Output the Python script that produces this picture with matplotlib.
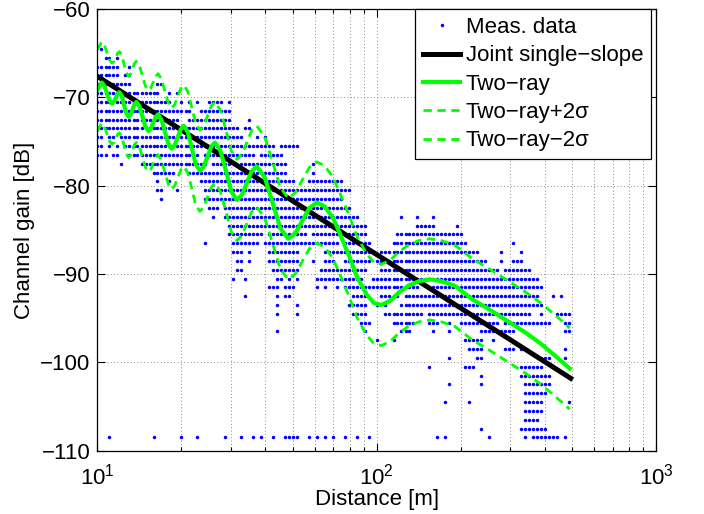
import numpy as np
import matplotlib
matplotlib.use("Agg")
import matplotlib.pyplot as plt
from matplotlib.ticker import LogLocator, NullFormatter

# measured points: gain levels (dB) and the distances (m) seen at each level
meas_levels = [-64.5, -65.5, -66.5, -67.5, -68.5, -69.5, -70.5, -71.5, -72.5,
               -73.5, -74.5, -75.5, -76.5, -77.5, -78.5, -79.5, -80.5, -81.5,
               -82.5, -83.5, -84.5, -85.5, -86.5, -87.5, -88.5, -89.5, -90.5,
               -91.5, -92.5, -93.5, -94.5, -95.5, -96.5, -97.5, -98.5, -99.5,
               -100.5, -101.5, -102.5, -103.5, -104.5, -105.5, -106.5, -107.5,
               -108.5]
meas_dists = [
    [10.3],
    [10.7, 11.0, 11.8],
    [10.0, 10.3, 10.7, 11.0, 11.4, 11.8, 13.0],
    [10.0, 10.3, 10.7, 11.0, 11.4, 11.8, 12.6, 13.0],
    [10.0, 10.3, 10.7, 11.0, 11.4, 11.8, 12.2, 12.6, 13.0, 16.4, 16.9],
    [10.0, 10.3, 10.7, 11.0, 11.4, 11.8, 12.2, 12.6, 13.0, 13.5, 13.9, 14.4,
     14.9, 15.4, 15.9, 16.4, 18.1, 19.3],
    [10.0, 10.3, 10.7, 11.0, 11.4, 11.8, 12.2, 12.6, 13.0, 13.5, 13.9, 14.4,
     14.9, 15.4, 15.9, 16.4, 16.9, 17.5, 18.1, 20.0, 21.3, 22.8, 25.2, 26.0,
     26.9, 27.8, 29.7],
    [10.0, 10.3, 10.7, 11.0, 11.4, 11.8, 12.2, 12.6, 13.0, 13.5, 13.9, 14.4,
     14.9, 15.4, 15.9, 16.4, 16.9, 17.5, 18.1, 18.7, 19.3, 20.0, 20.7, 21.3,
     23.6, 24.3, 25.2, 26.0, 26.9, 27.8, 28.7, 29.7],
    [10.0, 10.3, 10.7, 11.0, 11.4, 11.8, 12.2, 12.6, 13.0, 13.5, 13.9, 14.4,
     14.9, 15.4, 15.9, 16.4, 16.9, 17.5, 18.1, 18.7, 19.3, 21.3, 22.1, 22.8,
     23.6, 24.3, 25.2, 26.0, 26.9, 27.8, 28.7, 29.7, 35.0],
    [10.0, 10.3, 10.7, 11.0, 11.4, 11.8, 12.2, 12.6, 13.0, 13.5, 13.9, 14.4,
     14.9, 15.4, 15.9, 16.4, 16.9, 17.5, 18.1, 18.7, 19.3, 20.0, 20.7, 21.3,
     22.1, 22.8, 23.6, 24.3, 25.2, 26.0, 26.9, 27.8, 28.7, 29.7, 30.7, 31.7,
     33.9, 35.0],
    [10.0, 10.3, 11.0, 11.4, 12.2, 12.6, 13.0, 13.5, 13.9, 14.4, 14.9, 15.4,
     15.9, 16.4, 16.9, 17.5, 18.1, 18.7, 19.3, 20.0, 20.7, 21.3, 22.1, 22.8,
     23.6, 24.3, 25.2, 26.0, 26.9, 27.8, 28.7, 29.7, 30.7, 31.7, 32.8, 37.4,
     39.9],
    [10.0, 10.3, 11.0, 11.8, 12.6, 13.0, 13.5, 13.9, 14.4, 14.9, 15.4, 15.9,
     16.4, 16.9, 17.5, 18.1, 18.7, 19.3, 20.0, 20.7, 21.3, 22.1, 22.8, 23.6,
     24.3, 25.2, 26.0, 26.9, 27.8, 28.7, 29.7, 30.7, 31.7, 32.8, 33.9, 35.0,
     36.2, 37.4, 38.6, 39.9, 41.2, 42.6, 45.5, 47.1, 48.6, 50.3, 51.9],
    [10.0, 10.3, 10.7, 11.4, 11.8, 13.0, 13.5, 13.9, 14.4, 14.9, 15.4, 15.9,
     16.4, 16.9, 17.5, 18.1, 18.7, 19.3, 20.0, 20.7, 21.3, 22.1, 22.8, 24.3,
     25.2, 26.0, 26.9, 27.8, 28.7, 29.7, 30.7, 31.7, 32.8, 33.9, 35.0, 36.2,
     38.6, 39.9, 41.2, 42.6, 44.1, 45.5],
    [12.2, 14.4, 14.9, 15.4, 15.9, 16.4, 16.9, 17.5, 18.1, 18.7, 19.3, 20.0,
     20.7, 21.3, 22.1, 22.8, 23.6, 24.3, 26.0, 26.9, 27.8, 28.7, 29.7, 32.8,
     33.9, 35.0, 36.2, 37.4, 38.6, 39.9, 41.2, 42.6, 44.1, 45.5, 47.1, 59.3],
    [15.9, 16.4, 16.9, 17.5, 18.1, 18.7, 21.3, 22.1, 22.8, 23.6, 24.3, 25.2,
     26.0, 26.9, 27.8, 28.7, 29.7, 30.7, 31.7, 32.8, 33.9, 35.0, 36.2, 37.4,
     38.6, 39.9, 41.2, 42.6, 44.1, 45.5, 47.1, 59.3],
    [16.4, 18.1, 23.6, 24.3, 25.2, 26.0, 26.9, 27.8, 28.7, 29.7, 30.7, 31.7,
     32.8, 33.9, 35.0, 36.2, 37.4, 38.6, 39.9, 41.2, 42.6, 44.1, 45.5, 47.1,
     48.6, 50.3, 57.3, 59.3, 61.2, 63.3, 65.4, 67.6, 69.9, 72.2, 74.6],
    [16.4, 16.9, 19.3, 24.3, 25.2, 26.0, 26.9, 27.8, 28.7, 29.7, 30.7, 31.7,
     32.8, 33.9, 35.0, 36.2, 37.4, 38.6, 39.9, 41.2, 42.6, 44.1, 45.5, 47.1,
     48.6, 50.3, 51.9, 53.7, 55.5, 57.3, 59.3, 61.2, 63.3, 65.4, 67.6, 69.9,
     72.2, 74.6, 77.1, 79.7],
    [16.9, 24.3, 25.2, 26.0, 26.9, 27.8, 28.7, 29.7, 30.7, 31.7, 32.8, 33.9,
     35.0, 36.2, 37.4, 38.6, 39.9, 41.2, 42.6, 44.1, 45.5, 47.1, 48.6, 50.3,
     51.9, 53.7, 55.5, 57.3, 59.3, 61.2, 63.3, 65.4, 67.6, 69.9, 72.2, 74.6],
    [25.2, 26.0, 26.9, 28.7, 29.7, 30.7, 31.7, 32.8, 33.9, 35.0, 36.2, 37.4,
     38.6, 39.9, 41.2, 42.6, 44.1, 45.5, 47.1, 48.6, 50.3, 51.9, 53.7, 55.5,
     57.3, 59.3, 61.2, 63.3, 65.4, 67.6, 69.9, 72.2, 74.6, 77.1, 79.7],
    [26.0, 28.7, 29.7, 30.7, 31.7, 32.8, 33.9, 35.0, 36.2, 37.4, 38.6, 39.9,
     41.2, 42.6, 44.1, 45.5, 47.1, 48.6, 50.3, 51.9, 53.7, 55.5, 57.3, 59.3,
     61.2, 63.3, 65.4, 67.6, 69.9, 72.2, 74.6, 77.1, 79.7, 82.4, 85.1, 122,
     140, 159],
    [29.7, 30.7, 31.7, 32.8, 33.9, 35.0, 36.2, 37.4, 38.6, 39.9, 41.2, 42.6,
     44.1, 45.5, 47.1, 48.6, 50.3, 51.9, 53.7, 55.5, 57.3, 59.3, 61.2, 63.3,
     65.4, 67.6, 69.9, 72.2, 74.6, 77.1, 79.7, 82.4, 85.1, 88.0, 90.9, 140,
     144, 149, 154, 159, 194],
    [29.7, 30.7, 31.7, 32.8, 33.9, 35.0, 36.2, 37.4, 38.6, 41.2, 42.6, 44.1,
     45.5, 47.1, 48.6, 50.3, 51.9, 53.7, 55.5, 59.3, 61.2, 63.3, 65.4, 67.6,
     69.9, 72.2, 74.6, 77.1, 79.7, 82.4, 85.1, 88.0, 90.9, 118, 122, 127, 131,
     135, 140, 144, 149, 154, 159, 165, 170, 176, 182, 188, 194, 201],
    [24.3, 30.7, 31.7, 32.8, 33.9, 35.0, 36.2, 37.4, 39.9, 41.2, 42.6, 44.1,
     45.5, 47.1, 48.6, 50.3, 51.9, 53.7, 55.5, 57.3, 59.3, 61.2, 63.3, 65.4,
     67.6, 69.9, 72.2, 77.1, 79.7, 82.4, 85.1, 88.0, 90.9, 94.0, 115, 118,
     122, 127, 131, 135, 140, 144, 149, 154, 159, 165, 170, 176, 182, 188,
     194, 201, 207, 308],
    [30.7, 31.7, 32.8, 35.0, 41.2, 42.6, 44.1, 45.5, 47.1, 48.6, 50.3, 51.9,
     65.4, 67.6, 69.9, 72.2, 74.6, 77.1, 79.7, 82.4, 85.1, 88.0, 90.9, 94.0,
     97.1, 104, 107, 111, 115, 118, 122, 127, 131, 135, 140, 144, 149, 154,
     159, 165, 170, 176, 182, 188, 194, 201, 207, 214, 221, 229, 279, 329],
    [31.7, 32.8, 35.0, 41.2, 42.6, 44.1, 45.5, 47.1, 48.6, 50.3, 51.9, 59.3,
     65.4, 67.6, 69.9, 77.1, 79.7, 82.4, 85.1, 88.0, 90.9, 94.0, 100, 104,
     107, 111, 115, 118, 122, 127, 131, 135, 140, 144, 149, 154, 159, 165,
     170, 176, 182, 188, 194, 201, 207, 214, 221, 229, 237, 245, 279, 308,
     318, 329],
    [31.7, 32.8, 42.6, 44.1, 45.5, 47.1, 48.6, 50.3, 51.9, 63.3, 65.4, 67.6,
     69.9, 72.2, 74.6, 77.1, 79.7, 82.4, 85.1, 88.0, 90.9, 104, 107, 111, 115,
     118, 122, 127, 131, 135, 140, 144, 149, 154, 159, 165, 170, 176, 182,
     188, 194, 201, 207, 214, 221, 229, 237, 245, 253, 261, 270, 288, 298,
     308, 318, 329, 340, 351],
    [30.7, 33.9, 44.1, 45.5, 48.6, 51.9, 61.2, 63.3, 65.4, 67.6, 69.9, 72.2,
     74.6, 77.1, 79.7, 82.4, 85.1, 88.0, 97.1, 100, 104, 107, 111, 115, 118,
     122, 127, 131, 135, 140, 144, 149, 154, 159, 165, 170, 176, 182, 188,
     194, 201, 207, 214, 221, 229, 237, 245, 253, 261, 270, 279, 288, 298,
     308, 318, 329, 340, 351, 363, 375],
    [41.2, 42.6, 44.1, 47.1, 48.6, 50.3, 61.2, 65.4, 72.2, 77.1, 79.7, 82.4,
     85.1, 88.0, 90.9, 94.0, 97.1, 100, 104, 107, 111, 115, 118, 122, 127,
     131, 135, 140, 154, 159, 165, 170, 176, 182, 188, 194, 201, 207, 214,
     221, 229, 237, 245, 253, 261, 270, 279, 288, 298, 308, 318, 329, 340,
     351, 363, 375, 388],
    [33.9, 44.1, 47.1, 48.6, 82.4, 85.1, 88.0, 90.9, 104, 107, 111, 115, 118,
     127, 131, 135, 140, 144, 149, 154, 159, 165, 170, 176, 182, 188, 194,
     201, 207, 214, 221, 229, 237, 245, 253, 261, 270, 279, 288, 298, 308,
     318, 329, 340, 351, 363, 375, 428, 457],
    [44.1, 51.9, 79.7, 82.4, 85.1, 88.0, 90.9, 100, 107, 122, 127, 131, 135,
     140, 144, 149, 154, 159, 165, 170, 176, 182, 188, 194, 201, 207, 214,
     221, 229, 237, 245, 253, 261, 270, 279, 288, 298, 308, 318, 329, 340,
     351, 363, 375, 388],
    [44.1, 51.9, 82.4, 85.1, 88.0, 90.9, 107, 111, 115, 118, 122, 127, 131,
     135, 140, 144, 154, 159, 165, 170, 176, 182, 188, 194, 201, 207, 214,
     221, 229, 237, 245, 253, 261, 270, 279, 288, 298, 308, 318, 329, 340,
     351, 388, 442, 457, 473, 488],
    [88.0, 90.9, 94.0, 115, 118, 122, 127, 131, 135, 154, 159, 165, 182, 201,
     207, 214, 221, 229, 237, 245, 253, 261, 270, 288, 298, 308, 318, 329,
     340, 351, 363, 375, 388, 401, 414, 473, 488],
    [44.1, 90.9, 122, 127, 131, 159, 182, 237, 245, 253, 261, 270, 279, 288,
     298, 308, 473, 488],
    [100, 115, 207, 214, 221, 229, 237, 261],
    [214, 221, 229, 237, 288, 298, 308, 329, 473],
    [182, 229, 237, 388, 401, 414, 473],
    [154, 207, 214, 221, 329, 340, 351, 363, 375, 388],
    [237, 329, 340, 351, 363, 375, 388, 401, 414],
    [182, 237, 340, 351, 363, 375, 388, 401, 414],
    [340, 351, 363, 375, 388, 401],
    [176, 214, 340, 351, 363, 375, 388, 488],
    [340, 351, 363, 375, 388],
    [340, 351, 363, 375],
    [237, 329, 340, 351, 363, 375, 388, 401],
    [11.0, 15.9, 20.0, 22.8, 28.7, 32.8, 36.2, 38.6, 42.6, 47.1, 48.6, 50.3,
     51.9, 57.3, 61.2, 65.4, 69.9, 77.1, 85.1, 94.0, 165, 176, 253, 340, 363,
     375, 388, 401, 414, 428, 442, 473],
]

# joint single-slope fit (end points)
slope_dist = [10.0, 495.0]
slope_gain = [-67.6, -101.8]

# two-ray model
tworay_dist = [10.0, 10.37, 10.59, 10.83, 11.06, 11.3, 11.47, 11.65, 11.82,
               12.0, 12.23, 12.46, 12.71, 12.95, 13.16, 13.37, 13.58, 13.8,
               14.15, 14.51, 14.87, 15.25, 15.56, 15.86, 16.18, 16.5, 16.97,
               17.45, 17.95, 18.45, 18.92, 19.4, 19.9, 20.4, 21.1, 21.8, 22.5,
               23.3, 24.0, 24.8, 25.6, 26.4, 27.6, 28.9, 30.2, 31.6, 32.9,
               34.3, 35.7, 37.2, 39.7, 42.4, 45.2, 48.2, 51.1, 54.2, 57.5,
               61.0, 65.0, 69.7, 73.8, 79.6, 85.0, 92.0, 98.0, 104, 112, 120,
               130, 142, 155, 170, 190, 221, 250, 300, 340, 384, 430, 460, 491]
tworay_gain = [-69.2, -68.3, -68.65, -69.5, -70.35, -70.7, -70.5, -70.05,
               -69.6, -69.4, -69.8, -70.8, -71.8, -72.2, -71.95, -71.35,
               -70.75, -70.5, -71.0, -72.15, -73.3, -73.8, -73.5, -72.85,
               -72.2, -71.9, -72.5, -73.85, -75.2, -75.8, -75.4, -74.5, -73.6,
               -73.2, -73.95, -75.75, -77.55, -78.3, -77.85, -76.7, -75.55,
               -75.1, -76.05, -78.35, -80.65, -81.6, -81.05, -79.7, -78.35,
               -77.8, -79.0, -81.9, -84.8, -86.0, -85.4, -83.95, -82.5, -81.9,
               -82.3, -83.6, -85.4, -87.9, -90.3, -92.3, -93.3, -93.5, -93.0,
               -92.1, -91.3, -90.8, -90.6, -90.8, -91.3, -92.9, -93.9, -95.5,
               -96.6, -97.8, -99.1, -99.9, -100.7]
sigma = 2.3  # dB, shadowing std

plt.rcParams['font.family'] = ['Liberation Sans', 'DejaVu Sans']
plt.rcParams['mathtext.fontset'] = 'custom'
plt.rcParams['mathtext.rm'] = 'Liberation Sans'
plt.rcParams['mathtext.default'] = 'regular'
plt.rcParams['font.size'] = 16

meas_d = np.concatenate([np.asarray(ds, float) for ds in meas_dists])
meas_g = np.concatenate([np.full(len(ds), g) for g, ds in zip(meas_levels, meas_dists)])
tr_d = np.asarray(tworay_dist)
tr_g = np.asarray(tworay_gain)

fig = plt.figure(figsize=(7.04, 5.14), dpi=100)
ax = fig.add_axes([0.1382, 0.1232, 0.7936, 0.8589])

green = '#00ff00'
ax.plot(meas_d, meas_g, 'o', color='#0000ff', ms=2.5, mew=0, label='Meas. data')
ax.plot(slope_dist, slope_gain, '-', color='black', lw=3.6, label='Joint single−slope')
ax.plot(tr_d, tr_g, '-', color=green, lw=3, label='Two−ray')
ax.plot(tr_d, tr_g + 2 * sigma, color=green, lw=2, ls=(0, (3, 2)), label='Two−ray+2σ')
ax.plot(tr_d, tr_g - 2 * sigma, color=green, lw=2, ls=(0, (3, 2)), label='Two−ray−2σ')

ax.set_xscale('log')
ax.set_xlim(10, 1000)
ax.set_ylim(-110, -60)
ax.set_yticks(np.arange(-110, -59, 10))
ax.xaxis.set_minor_locator(LogLocator(base=10, subs=np.arange(2, 10)))
ax.xaxis.set_minor_formatter(NullFormatter())

ax.grid(True, which='major', axis='both', color='0.4', lw=0.6, ls=(0, (1, 3)))
ax.grid(True, which='minor', axis='x', color='0.4', lw=0.6, ls=(0, (1, 3)))
ax.tick_params(which='both', direction='in', top=True, right=True, labelsize=16, width=0.8)
ax.tick_params(which='major', length=6)
ax.tick_params(axis='x', which='major', pad=9)
ax.tick_params(axis='y', which='major', pad=5)
ax.tick_params(which='minor', length=3)
for s in ax.spines.values():
    s.set_linewidth(0.9)

ax.set_xlabel('Distance [m]', fontsize=16, labelpad=0)
ax.set_ylabel('Channel gain [dB]', fontsize=16, labelpad=4)

leg = ax.legend(loc='upper right', bbox_to_anchor=(0.991, 1.0), borderaxespad=0,
                fancybox=False, edgecolor='black', framealpha=1, fontsize=16,
                handlelength=1.67, handletextpad=0.25, labelspacing=0.33,
                borderpad=0.35, numpoints=1)
leg.get_frame().set_linewidth(0.9)

fig.savefig('out.png', dpi=100)
